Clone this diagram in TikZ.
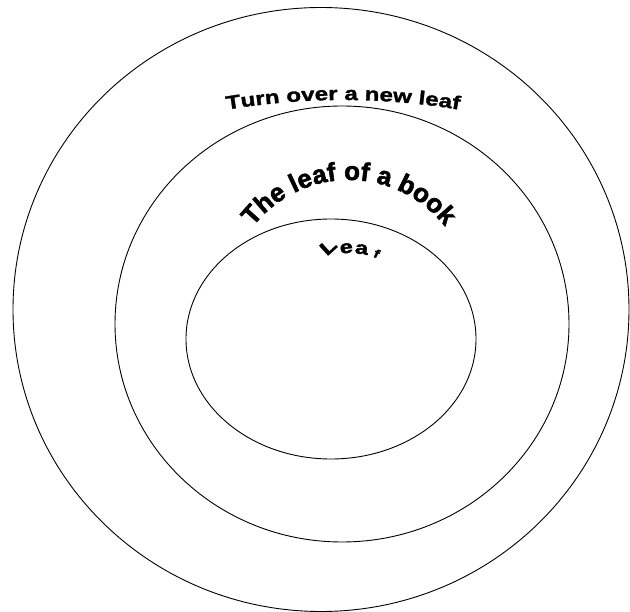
\documentclass[tikz,border=0pt]{standalone}
\usepackage{fontspec}
\usetikzlibrary{decorations.text,shapes.geometric}
\newfontfamily\arcA{Liberation Sans}[FakeStretch=1.27,FakeBold=1.6]
\newfontfamily\arcB{Liberation Sans}[FakeStretch=1.0,FakeBold=2]
\newfontfamily\arcC{Liberation Sans}[FakeStretch=1.3,FakeBold=2.2]
\newcommand\fA{\arcA\bfseries\fontsize{19pt}{20pt}\selectfont}
\newcommand\fB{\arcB\bfseries\fontsize{26pt}{28pt}\selectfont}
\newcommand\fC{\arcC\bfseries\fontsize{18pt}{19pt}\selectfont}
\newcommand\fL{\arcC\bfseries\fontsize{19pt}{20pt}\selectfont}
\newcommand\fD{\arcC\bfseries\fontsize{12pt}{13pt}\selectfont}
\begin{document}
\begin{tikzpicture}[x=1pt,y=1pt,
  ring/.style={draw=black, line width=0.9pt, ellipse, inner sep=0pt, outer sep=0pt},
  leafch/.style={inner sep=0pt, outer sep=0pt, anchor=base, font=\fC}]
\useasboundingbox (0,0) rectangle (630,-612);
\node[ring, minimum width=616pt, minimum height=604pt] (outer) at (321,-309.5) {};
\node[ring, minimum width=454pt, minimum height=436pt] (middle) at (342,-324) {};
\node[ring, minimum width=290pt, minimum height=240pt] (inner) at (331,-339) {};
\path[decorate, decoration={text along path, text={|\fA|Turn over a new leaf}, text align=center}]
  (343,-800) ++(105:700) arc[start angle=105, end angle=75, radius=700];
\path[decorate, decoration={text along path, text={|\fB|The leaf of a book}, text align=center}]
  (349,-302) ++(170:122) arc[start angle=170, end angle=10, radius=122];
\node[leafch, rotate=42, font=\fL] (l1) at (332.5,-251.5) {L};
\node[leafch, rotate=8] (l2) at (347,-253) {e};
\node[leafch, rotate=-8] (l3) at (361,-254) {a};
\node[leafch, rotate=-25, font=\fD] (l4) at (375,-257.5) {f};
\end{tikzpicture}
\end{document}
